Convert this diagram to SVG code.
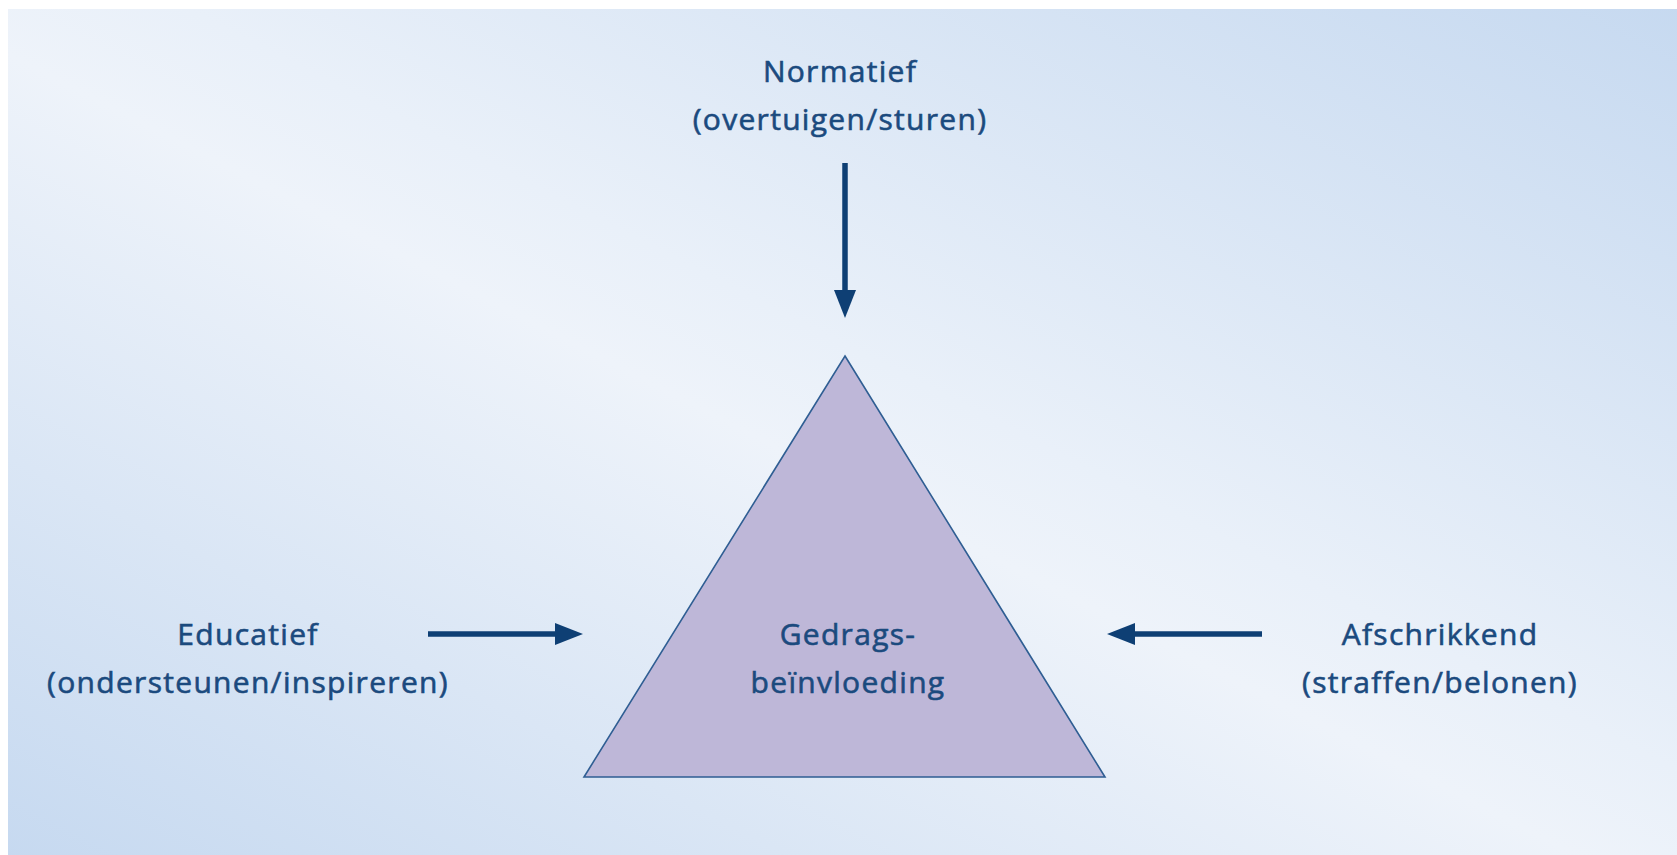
<svg xmlns="http://www.w3.org/2000/svg" width="1677" height="855" viewBox="0 0 1677 855">
  <defs>
    <linearGradient id="bg" gradientUnits="userSpaceOnUse" x1="492" y1="1105" x2="1184" y2="-251">
      <stop offset="0" stop-color="#C6D9F0"/>
      <stop offset="0.47" stop-color="#EEF3FA"/>
      <stop offset="0.55" stop-color="#E9F0F9"/>
      <stop offset="1" stop-color="#C6D9F0"/>
    </linearGradient>
    <marker id="head" markerUnits="userSpaceOnUse" markerWidth="28" markerHeight="22" viewBox="0 0 28 22" refX="10" refY="11" orient="auto">
      <path d="M0,0 L28,11 L0,22 Z" fill="#0E3F74"/>
    </marker>
    <style>
      .lbl { font-family: "Open Sans", "Liberation Sans", sans-serif; font-size: 30px; font-weight: 500; letter-spacing: 1.3px; fill: #1B4A7E; stroke: #1B4A7E; stroke-width: 0.6px; text-anchor: middle; }
      .conn { stroke: #0E3F74; stroke-width: 5.5; fill: none; marker-end: url(#head); }
      .tri { fill: #BEB7D8; stroke: #2F5E93; stroke-width: 1.6; stroke-linejoin: miter; }
    </style>
  </defs>
  <rect x="0" y="0" width="1677" height="855" fill="#FFFFFF"/>
  <rect x="8" y="9" width="1669" height="846" fill="url(#bg)"/>

  <g id="connectors">
    <line class="conn" x1="845" y1="163" x2="845" y2="300"/>
    <line class="conn" x1="428" y1="634" x2="565" y2="634"/>
    <line class="conn" x1="1262" y1="634" x2="1125" y2="634"/>
  </g>

  <g id="node-center">
    <polygon class="tri" points="845,356 1105,777 584,777"/>
    <text class="lbl" x="848" y="645">Gedrags-</text>
    <text class="lbl" x="848" y="693">beïnvloeding</text>
  </g>

  <g id="node-normatief">
    <text class="lbl" x="840" y="82">Normatief</text>
    <text class="lbl" x="840" y="130">(overtuigen/sturen)</text>
  </g>

  <g id="node-educatief">
    <text class="lbl" x="248" y="645">Educatief</text>
    <text class="lbl" x="248" y="693">(ondersteunen/inspireren)</text>
  </g>

  <g id="node-afschrikkend">
    <text class="lbl" x="1440" y="645">Afschrikkend</text>
    <text class="lbl" x="1440" y="693">(straffen/belonen)</text>
  </g>
</svg>
